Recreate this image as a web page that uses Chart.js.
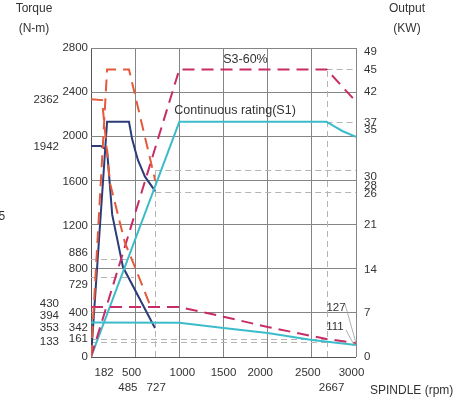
<!DOCTYPE html>
<html>
<head>
<meta charset="utf-8">
<script src="https://cdn.jsdelivr.net/npm/chart.js@4.4.1/dist/chart.umd.min.js"></script>
<style>
  html, body { margin: 0; padding: 0; background: #fff; }
  #wrap { width: 465px; height: 402px; }
</style>
</head>
<body>
<div id="wrap"><canvas id="spindleChart" width="465" height="402"></canvas></div>
<script>
// axis ticks
const rpmTicks = [182, 500, 1000, 1500, 2000, 2500, 3000];
const rpmTicksLower = [485, 727, 2667];
const torqueTicks = [2800, 2400, 2000, 1600, 1200, 886, 800, 729, 400, 342, 161, 0];
const torqueTicksOuter = [2362, 1942, 430, 394, 353, 133];
const outputTicks = [49, 45, 42, 37, 35, 30, 28, 26, 21, 14, 7, 0];

// low gear, S3-60% (orange dashed)
const lowS3PowerRpm = [0, 182, 430, 727];
const lowS3PowerKw = [0, 45.6, 45.6, 28];
const lowS3TorqueRpm = [0, 125, 215, 385, 498, 668];
const lowS3TorqueNm = [2335, 2328, 1577, 1033, 815, 471];

// low gear, S1 (navy)
const lowS1PowerRpm = [0, 182, 430, 465, 500, 532, 611, 727];
const lowS1PowerKw = [0, 37.3, 37.3, 34.6, 32.8, 31.2, 28.6, 26.3];
const lowS1TorqueRpm = [0, 110, 182, 240, 362, 724];
const lowS1TorqueNm = [1912, 1912, 1875, 1290, 815, 263];

// high gear, S3-60% (crimson dashed)
const highS3PowerRpm = [0, 1000, 2667, 3000];
const highS3PowerKw = [0, 45.6, 45.6, 40.5];
const highS3TorqueRpm = [0, 1000, 1500, 2000, 2500, 2667, 3000];
const highS3TorqueNm = [453, 453, 365, 272, 190, 163, 127];

// high gear, S1 continuous (cyan)
const highS1PowerRpm = [0, 1000, 2667, 2750, 2850, 3000];
const highS1PowerKw = [0, 37.3, 37.3, 36.6, 35.8, 34.9];
const highS1TorqueRpm = [0, 1000, 1500, 2000, 2500, 3000];
const highS1TorqueNm = [313, 310, 263, 217, 154, 108];

// thin dashed guide lines: [value, fromRpm, toRpm]
const guideTorque = [[886, 0, 485], [729, 0, 485], [161, 0, 2667], [133, 0, 2667]];
const guideOutput = [[45.6, 2667, 3000], [37.3, 2667, 3000], [29.6, 727, 3000], [26.2, 727, 3000]];
const guideRpm = [[727, 0, 29.6], [2667, 0, 45.6]];

const ORANGE = "#e45a3c";
const CRIMSON = "#c82c66";
const NAVY = "#2c3c78";
const CYAN = "#3cbccb";

function pts(xs, ys) {
    return xs.map((x, i) => ({ x: x, y: ys[i] }));
}

function series(xs, ys, color, axis, dashed) {
    return {
        data: pts(xs, ys),
        borderColor: color,
        borderWidth: 2,
        borderDash: dashed ? [12, 7] : [],
        pointRadius: 0,
        fill: false,
        tension: 0,
        yAxisID: axis
    };
}

const FONT = '"Liberation Sans", Arial, sans-serif';

const labelPlugin = {
    id: "labelPlugin",
    beforeDatasetsDraw(chart) {
        const { ctx, scales: { x, y, yR } } = chart;
        ctx.save();
        ctx.strokeStyle = "#b4b4b4";
        ctx.lineWidth = 1;
        ctx.setLineDash([6, 4]);
        guideTorque.forEach(g => {
            const py = Math.round(y.getPixelForValue(g[0])) + 0.5;
            ctx.beginPath();
            ctx.moveTo(x.getPixelForValue(g[1]), py);
            ctx.lineTo(x.getPixelForValue(g[2]), py);
            ctx.stroke();
        });
        guideOutput.forEach(g => {
            const py = Math.round(yR.getPixelForValue(g[0])) + 0.5;
            ctx.beginPath();
            ctx.moveTo(x.getPixelForValue(g[1]), py);
            ctx.lineTo(x.getPixelForValue(g[2]), py);
            ctx.stroke();
        });
        guideRpm.forEach(g => {
            const px = Math.round(x.getPixelForValue(g[0])) + 0.5;
            ctx.beginPath();
            ctx.moveTo(px, yR.getPixelForValue(g[1]));
            ctx.lineTo(px, yR.getPixelForValue(g[2]));
            ctx.stroke();
        });
        ctx.restore();
    },
    afterDraw(chart) {
        const { ctx, scales: { x, y, yR } } = chart;
        // small nudges so crowded labels sit where the original put them
        const nudgeT = { 886: -6, 729: 8, 342: 8.5, 1600: 1, 1200: 1 };
        const nudgeTO = { 2362: 3.5, 1942: 4, 430: -6, 394: 2, 353: 10 };
        const nudgeO = { 49: 4, 45: -3, 37: -1, 35: -6, 30: 9, 28: 5.5, 26: 1, 14: 1 };
        const nudgeX = { 182: -3, 500: -3.5, 1000: 3, 2000: -7.5, 2500: -4, 3000: -4.5 };
        const nudgeX2 = { 485: -6, 727: 1, 2667: 5 };

        ctx.save();
        ctx.fillStyle = "#333";
        ctx.font = "11.5px " + FONT;
        ctx.textBaseline = "middle";

        ctx.textAlign = "right";
        torqueTicks.forEach(v => ctx.fillText(String(v), 88, y.getPixelForValue(v) + (nudgeT[v] || 0)));
        torqueTicksOuter.forEach(v => ctx.fillText(String(v), 59, y.getPixelForValue(v) + (nudgeTO[v] || 0)));

        ctx.textAlign = "left";
        outputTicks.forEach(v => ctx.fillText(String(v), 364, yR.getPixelForValue(v) + (nudgeO[v] || 0)));

        ctx.textAlign = "center";
        rpmTicks.forEach(v => ctx.fillText(String(v), x.getPixelForValue(v) + (nudgeX[v] || 0), 372.5));
        rpmTicksLower.forEach(v => ctx.fillText(String(v), x.getPixelForValue(v) + (nudgeX2[v] || 0), 387.5));

        // axis titles
        ctx.font = "12px " + FONT;
        ctx.fillText("Torque", 34, 9);
        ctx.fillText("(N-m)", 34, 28.5);
        ctx.fillText("Output", 407, 9);
        ctx.fillText("(KW)", 407, 28.5);
        ctx.textAlign = "left";
        ctx.fillText("SPINDLE (rpm)", 370, 391);
        ctx.fillText("5", -1.5, 217);

        // curve captions
        ctx.textAlign = "center";
        ctx.font = "12.5px " + FONT;
        ctx.fillText("S3-60%", 245.5, 60);
        ctx.fillText("Continuous rating(S1)", 235, 111);
        ctx.font = "11.5px " + FONT;
        ctx.fillText("127", 336, 308);
        ctx.fillText("111", 335, 327);

        // leader lines to the 3000 rpm end values
        ctx.strokeStyle = "#9a9a9a";
        ctx.lineWidth = 0.8;
        ctx.beginPath();
        ctx.moveTo(345, 304);
        ctx.lineTo(x.getPixelForValue(3000), y.getPixelForValue(127));
        ctx.moveTo(346, 330);
        ctx.lineTo(x.getPixelForValue(3000) - 2, y.getPixelForValue(111));
        ctx.stroke();
        ctx.restore();
    }
};

const ctx = document.getElementById("spindleChart");
new Chart(ctx, {
    type: "line",
    data: {
        datasets: [
            series(lowS3PowerRpm, lowS3PowerKw, ORANGE, "yR", true),
            series(lowS3TorqueRpm, lowS3TorqueNm, ORANGE, "y", true),
            series(highS3PowerRpm, highS3PowerKw, CRIMSON, "yR", true),
            series(highS3TorqueRpm, highS3TorqueNm, CRIMSON, "y", true),
            series(highS1PowerRpm, highS1PowerKw, CYAN, "yR", false),
            series(highS1TorqueRpm, highS1TorqueNm, CYAN, "y", false),
            series(lowS1PowerRpm, lowS1PowerKw, NAVY, "yR", false),
            series(lowS1TorqueRpm, lowS1TorqueNm, NAVY, "y", false)
        ]
    },
    options: {
        responsive: false,
        animation: false,
        layout: { padding: { left: 91, right: 109, top: 48, bottom: 45 } },
        plugins: {
            legend: { display: false },
            tooltip: { enabled: false }
        },
        scales: {
            x: {
                type: "linear",
                min: 0,
                max: 3000,
                afterBuildTicks: s => { s.ticks = [0, 500, 1000, 1500, 2000, 2500, 3000].map(v => ({ value: v })); },
                afterFit: s => { s.height = 0; },
                ticks: { display: false },
                grid: { color: c => c.tick.value === 0 ? "#555" : "#858585", drawTicks: false },
                border: { display: false }
            },
            y: {
                min: 0,
                max: 2800,
                afterBuildTicks: s => { s.ticks = [0, 400, 800, 1200, 1600, 2000, 2400, 2800].map(v => ({ value: v })); },
                afterFit: s => { s.width = 0; },
                ticks: { display: false },
                grid: { color: c => c.tick.value === 0 ? "#555" : "#858585", drawTicks: false },
                border: { display: false }
            },
            yR: {
                position: "right",
                min: 0,
                max: 49,
                afterFit: s => { s.width = 0; },
                ticks: { display: false },
                grid: { display: false, drawTicks: false },
                border: { display: false }
            }
        }
    },
    plugins: [labelPlugin]
});
</script>
</body>
</html>
